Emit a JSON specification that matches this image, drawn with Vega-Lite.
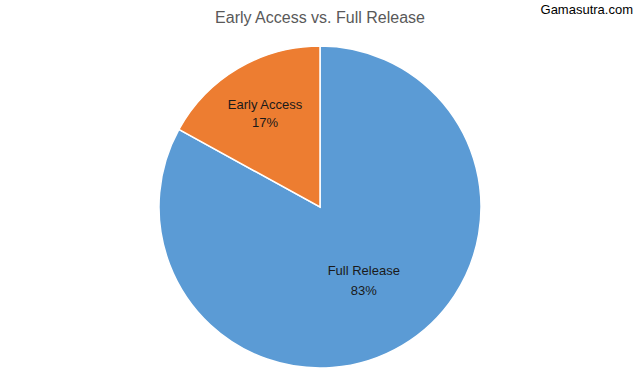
{
  "$schema": "https://vega.github.io/schema/vega-lite/v6.json",
  "width": 640,
  "height": 352,
  "autosize": "none",
  "padding": {"top": 31, "left": 0, "right": 0, "bottom": 0},
  "background": "white",
  "config": {"view": {"stroke": null}},
  "title": {
    "text": "Early Access vs. Full Release",
    "font": "Liberation Sans",
    "fontSize": 16,
    "fontWeight": "normal",
    "color": "#595959",
    "anchor": "middle",
    "baseline": "alphabetic",
    "offset": 8,
    "dy": 43
  },
  "data": {
    "values": [
      {"category": "Full Release", "share": 0.83, "order": 1},
      {"category": "Early Access", "share": 0.17, "order": 2}
    ]
  },
  "layer": [
    {
      "mark": {"type": "arc", "outerRadius": 161, "stroke": "white", "strokeWidth": 1.5},
      "encoding": {
        "theta": {"field": "share", "type": "quantitative", "stack": true},
        "order": {"field": "order", "type": "ordinal"},
        "color": {
          "field": "category",
          "type": "nominal",
          "scale": {"domain": ["Full Release", "Early Access"], "range": ["#5B9BD5", "#ED7D31"]},
          "legend": null
        }
      }
    },
    {
      "transform": [{"filter": "datum.category == 'Early Access'"}],
      "layer": [
        {
          "mark": {"type": "text", "radius": 108, "dy": -9, "font": "Liberation Sans", "fontSize": 13, "color": "#1a1a1a"},
          "encoding": {
            "theta": {"field": "share", "type": "quantitative", "stack": true, "scale": {"domain": [0, 0.17], "range": [5.215, 6.2832]}},
            "text": {"field": "category", "type": "nominal"}
          }
        },
        {
          "mark": {"type": "text", "radius": 108, "dy": 9, "font": "Liberation Sans", "fontSize": 13, "color": "#1a1a1a"},
          "encoding": {
            "theta": {"field": "share", "type": "quantitative", "stack": true, "scale": {"domain": [0, 0.17], "range": [5.215, 6.2832]}},
            "text": {"field": "share", "type": "quantitative", "format": ".0%"}
          }
        }
      ]
    },
    {
      "transform": [{"filter": "datum.category == 'Full Release'"}],
      "layer": [
        {
          "mark": {"type": "text", "radius": 86, "dy": -10, "font": "Liberation Sans", "fontSize": 13, "color": "#1a1a1a"},
          "encoding": {
            "theta": {"field": "share", "type": "quantitative", "stack": true, "scale": {"domain": [0, 0.83], "range": [0, 5.215]}},
            "text": {"field": "category", "type": "nominal"}
          }
        },
        {
          "mark": {"type": "text", "radius": 86, "dy": 10, "font": "Liberation Sans", "fontSize": 13, "color": "#1a1a1a"},
          "encoding": {
            "theta": {"field": "share", "type": "quantitative", "stack": true, "scale": {"domain": [0, 0.83], "range": [0, 5.215]}},
            "text": {"field": "share", "type": "quantitative", "format": ".0%"}
          }
        }
      ]
    },
    {
      "data": {"values": [{"source": "Gamasutra.com"}]},
      "mark": {"type": "text", "align": "right", "baseline": "middle", "font": "Liberation Sans", "fontSize": 13, "color": "black", "dx": -7, "dy": -21},
      "encoding": {
        "x": {"value": "width"},
        "y": {"value": 0},
        "text": {"field": "source", "type": "nominal"}
      }
    }
  ],
  "resolve": {"scale": {"theta": "independent"}}
}
